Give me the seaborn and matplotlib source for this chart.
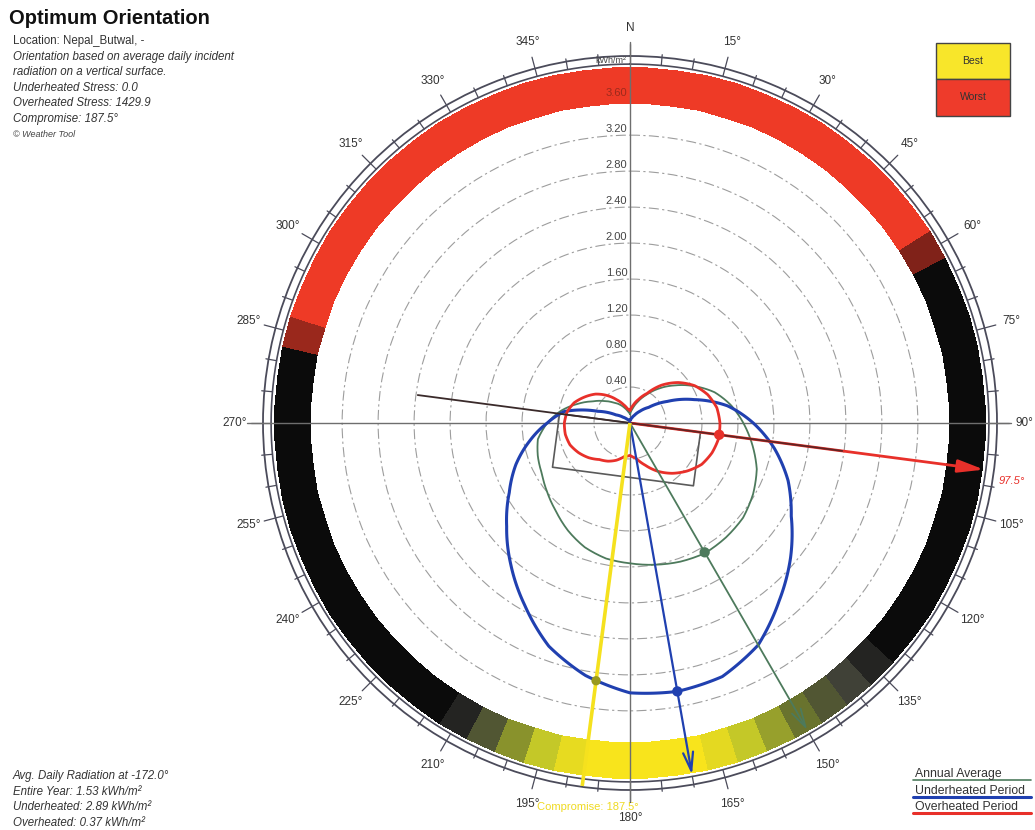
import numpy as np
import matplotlib
matplotlib.use("Agg")
import matplotlib.pyplot as plt
from matplotlib.colors import LinearSegmentedColormap
from matplotlib.patches import Rectangle
from matplotlib.lines import Line2D
import seaborn as sns

# ---------------------------------------------------------------------------
# Average daily incident radiation on a vertical surface (kWh/m²) by the
# orientation of the surface, in degrees clockwise from north.
orient_deg = list(range(0, 360, 10))

annual_average = [0.10, 0.16, 0.25, 0.36, 0.50, 0.65, 0.82, 1.00, 1.14, 1.26,
                  1.38, 1.50, 1.58, 1.64, 1.66, 1.67, 1.64, 1.60, 1.56, 1.53,
                  1.47, 1.38, 1.28, 1.20, 1.13, 1.09, 1.04, 0.92, 0.78, 0.62,
                  0.48, 0.38, 0.30, 0.24, 0.18, 0.13]
underheated_period = [0.03, 0.04, 0.06, 0.10, 0.17, 0.27, 0.48, 0.76, 1.10, 1.37,
                      1.63, 1.87, 2.07, 2.33, 2.58, 2.85, 3.00, 3.03, 3.00, 2.85,
                      2.64, 2.34, 2.06, 1.79, 1.55, 1.35, 1.13, 0.92, 0.74, 0.38,
                      0.18, 0.10, 0.06, 0.04, 0.03, 0.03]
overheated_period = [0.14, 0.20, 0.28, 0.38, 0.55, 0.70, 0.83, 0.92, 0.98, 1.00,
                     1.00, 0.97, 0.92, 0.83, 0.73, 0.62, 0.50, 0.40, 0.36, 0.38,
                     0.44, 0.49, 0.53, 0.60, 0.66, 0.71, 0.73, 0.73, 0.71, 0.66,
                     0.58, 0.50, 0.40, 0.30, 0.22, 0.16]

# Best orientation of each period and its radiation value
optimum_labels = ["Annual Average", "Underheated Period", "Overheated Period"]
optimum_deg = [150.0, 170.0, 97.5]
optimum_kwh = [1.66, 3.03, 1.00]
compromise_deg = 187.5
compromise_kwh = 2.89

# Orientation rating around the outer band: -1 worst ... 0 neutral ... 1 best
band_deg = list(range(0, 360, 5))
band_score = [-1, -1, -1, -1, -1, -1, -1, -1, -1, -1, -1, -0.75,
              -0.2, 0, 0, 0, 0, 0, 0, 0, 0, 0, 0, 0,
              0, 0, 0, 0.08, 0.18, 0.3, 0.45, 0.6, 0.75, 0.9, 1, 1,
              1, 1, 0.92, 0.75, 0.55, 0.3, 0.08, 0, 0, 0, 0, 0,
              0, 0, 0, 0, 0, 0, 0, 0, 0, -0.25, -0.8, -1,
              -1, -1, -1, -1, -1, -1, -1, -1, -1, -1, -1, -1]

radial_ticks = [0.40, 0.80, 1.20, 1.60, 2.00, 2.40, 2.80, 3.20, 3.60]
degree_ticks = list(range(0, 360, 15))
degree_labels = ["N", "15°", "30°", "45°", "60°", "75°", "90°", "105°",
                 "120°", "135°", "150°", "165°", "180°", "195°", "210°",
                 "225°", "240°", "255°", "270°", "285°", "300°", "315°",
                 "330°", "345°"]

info_lines = ["Location: Nepal_Butwal, -",
              "Orientation based on average daily incident",
              "radiation on a vertical surface.",
              "Underheated Stress: 0.0",
              "Overheated Stress: 1429.9",
              "Compromise: 187.5°"]
radiation_lines = ["Avg. Daily Radiation at -172.0°",
                   "Entire Year: 1.53 kWh/m²",
                   "Underheated: 2.89 kWh/m²",
                   "Overheated: 0.37 kWh/m²"]

# ---------------------------------------------------------------------------
sns.set_style("white")
plt.rcParams["font.family"] = ["Liberation Sans", "DejaVu Sans"]

C_RED = "#e8302a"
C_BLUE = "#2040b0"
C_GREEN = "#4d7a5c"
C_YELLOW = "#f5e11e"
C_RING = "#4b4b5a"

W, H = 1035, 830
fig = plt.figure(figsize=(W / 100, H / 100), dpi=100)
fig.patch.set_facecolor("white")

R_OUT = 4.08
ax = fig.add_axes([263 / W, 40 / H, 734 / W, 734 / H], projection="polar")
ax.set_theta_zero_location("N")
ax.set_theta_direction(-1)
ax.set_ylim(0, R_OUT)
ax.set_xticks([])
ax.set_rgrids(radial_ticks, labels=[""] * len(radial_ticks))
ax.yaxis.grid(True, color="#9d9d9d", linestyle=(0, (9, 3, 2, 3)), linewidth=0.8)
ax.tick_params(axis="y", length=0)
ax.set_axisbelow(True)
ax.spines["polar"].set_color(C_RING)
ax.spines["polar"].set_linewidth(1.3)

# outer rating band, one cell per 5° of orientation
band_cmap = LinearSegmentedColormap.from_list(
    "rating",
    [(0.0, "#ee3a26"), (0.3, "#ee3a26"), (0.42, "#6a1d16"), (0.5, "#0a0a0a"),
     (0.58, "#3c3c38"), (0.72, "#66702e"), (0.86, "#bcc42a"), (1.0, "#f8e41c")])
theta_edges = np.deg2rad(np.array(band_deg + [360]) - 2.5)
r_edges = np.array([3.56, 3.95])
ax.pcolormesh(theta_edges, r_edges, np.array([band_score]), cmap=band_cmap,
              vmin=-1, vmax=1, shading="flat", edgecolors="face",
              linewidth=0.3, zorder=1)

# double ring with degree ticks
ring = np.linspace(0, 2 * np.pi, 721)
ax.plot(ring, np.full_like(ring, 3.99), color=C_RING, lw=1.2, zorder=2)
for a in range(0, 360, 5):
    r1 = 4.21 if a % 15 == 0 else 4.11
    ax.plot([np.deg2rad(a)] * 2, [3.99, r1], color=C_RING, lw=0.9,
            clip_on=False, zorder=2)
for a, lab in zip(degree_ticks, degree_labels):
    ax.text(np.deg2rad(a), 4.39, lab, ha="center", va="center",
            fontsize=8.5, color="#333333", clip_on=False)

# cross hair
for a, r in [(0, 4.24), (90, 4.24), (180, 4.2), (270, 4.26)]:
    ax.plot([np.deg2rad(a)] * 2, [0, r], color="#6e6e6e", lw=1.0,
            clip_on=False, zorder=3)

# radial scale labels
for r in radial_ticks:
    col = "#9c2a1c" if r > 3.5 else "#444444"
    ax.annotate(f"{r:.2f}", xy=(0, r), xytext=(-2, 1), textcoords="offset points",
                ha="right", va="bottom", fontsize=8, color=col, zorder=4)
ax.annotate("kWh/m²", xy=(0, 4.03), xytext=(-3, 0), textcoords="offset points",
            ha="right", va="center", fontsize=6.5, color="#444444", zorder=4)

# radiation curves
theta_closed = np.deg2rad(orient_deg + [360])
curves = [(annual_average, C_GREEN, 1.3),
          (underheated_period, C_BLUE, 2.2),
          (overheated_period, C_RED, 2.0)]
for vals, col, lw in curves:
    before = len(ax.lines)
    sns.lineplot(x=theta_closed, y=list(vals) + [vals[0]], sort=False,
                 estimator=None, color=col, linewidth=lw, ax=ax, zorder=4)
    for ln in ax.lines[before:]:
        ln.get_path()._interpolation_steps = 16
        ln._invalidx = True

# compromise building outline (top edge through the centre, facing compromise)
face = np.deg2rad(compromise_deg)
side = face - np.pi / 2
u = np.array([np.sin(face), np.cos(face)])
t = np.array([np.sin(side), np.cos(side)])
half_w, depth = 0.79, 0.60
pts = [-half_w * t, half_w * t, half_w * t + depth * u,
       -half_w * t + depth * u, -half_w * t]
ax.plot([np.arctan2(p[0], p[1]) for p in pts], [np.hypot(*p) for p in pts],
        color="#5a5a5a", lw=1.2, zorder=3)

# orientation rays
th_over = np.deg2rad(optimum_deg[2])
ax.annotate("", xy=(th_over, 3.97), xytext=(th_over, 0), zorder=5,
            arrowprops=dict(arrowstyle="-|>,head_length=1.3,head_width=0.32",
                            color=C_RED, lw=2.0, shrinkA=0, shrinkB=0,
                            mutation_scale=12))
ax.plot([th_over + np.pi, th_over + np.pi], [0, 2.38], color="#3a2a2a",
        lw=1.3, zorder=5)
ax.plot([th_over, th_over], [0, 2.38], color="#4a2222", lw=1.3, zorder=5,
        alpha=0.85)
for deg, r_end, col, lw in [(optimum_deg[0], 3.94, C_GREEN, 1.3),
                            (optimum_deg[1], 3.97, C_BLUE, 1.6)]:
    th = np.deg2rad(deg)
    ax.annotate("", xy=(th, r_end), xytext=(th, 0), zorder=5,
                arrowprops=dict(arrowstyle="->,head_length=1.1,head_width=0.3",
                                color=col, lw=lw, shrinkA=0, shrinkB=0,
                                mutation_scale=12))
th_c = np.deg2rad(compromise_deg)
ax.plot([th_c, th_c], [0, 4.07], color=C_YELLOW, lw=2.6, zorder=5,
        clip_on=False, solid_capstyle="butt")

# optimum points
sns.scatterplot(x=np.deg2rad(optimum_deg), y=optimum_kwh, hue=optimum_labels,
                palette=[C_GREEN, C_BLUE, C_RED], s=55, edgecolor="none",
                legend=False, ax=ax, zorder=6)
sns.scatterplot(x=[th_c], y=[compromise_kwh], color="#9a9a1e", s=45,
                edgecolor="none", legend=False, ax=ax, zorder=6)
ax.set_xlabel("")
ax.set_ylabel("")

ax.text(np.deg2rad(98.6), 4.29, f"{optimum_deg[2]:.1f}°", ha="center",
        va="center", fontsize=8, color=C_RED, style="italic", clip_on=False)
ax.text(np.deg2rad(186.3), 4.29, f"Compromise: {compromise_deg:.1f}°",
        ha="center", va="center", fontsize=8, color="#efda22",
        clip_on=False, zorder=1)


# ---------------------------------------------------------------------------
def ftext(x, y, s, **kw):
    fig.text(x / W, 1 - y / H, s, **kw)


ftext(9, 24, "Optimum Orientation", fontsize=14.5, fontweight="bold",
      color="#111111", va="baseline")
for i, line in enumerate(info_lines):
    ftext(13, 44 + 15.6 * i, line, fontsize=8.3, color="#333333",
          va="baseline", style="normal" if i == 0 else "italic")
ftext(13, 137, "© Weather Tool", fontsize=6.5, color="#444444",
      va="baseline", style="italic")

for i, line in enumerate(radiation_lines):
    ftext(13, 779 + 15.6 * i, line, fontsize=8.3, color="#333333",
          va="baseline", style="italic")

for i, (lab, col, lw) in enumerate(zip(optimum_labels,
                                       [C_GREEN, C_BLUE, C_RED],
                                       [1.2, 2.2, 2.2])):
    yb = 777 + 16.5 * i
    ftext(915, yb, lab, fontsize=8.8, color="#333333", va="baseline")
    fig.add_artist(Line2D([913 / W, 1031 / W], [1 - (yb + 3) / H] * 2,
                          color=col, lw=lw, transform=fig.transFigure))

# best / worst key
for y0, y1, col, lab in [(43, 79, "#f8e62a", "Best"), (79, 116, "#ee3b2b", "Worst")]:
    fig.add_artist(Rectangle((936 / W, 1 - y1 / H), 74 / W, (y1 - y0) / H,
                             facecolor=col, edgecolor="#444444", lw=1.0,
                             transform=fig.transFigure))
    ftext(973, (y0 + y1) / 2, lab, fontsize=7.5, color="#333333",
          ha="center", va="center")

fig.savefig("out.png", dpi=100, facecolor="white")
